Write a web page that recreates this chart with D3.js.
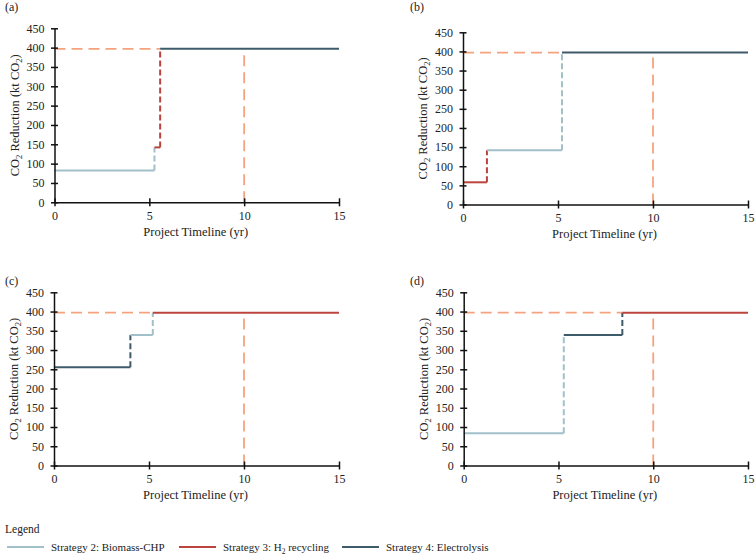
<!DOCTYPE html>
<html>
<head>
<meta charset="utf-8">
<script src="https://cdn.jsdelivr.net/npm/d3@7"></script>
<style>
  html, body { margin: 0; padding: 0; background: #fff; }
  text { font-family: "Liberation Serif", "Times New Roman", serif; fill: #222; }
</style>
</head>
<body>
<svg id="chart" width="756" height="555"></svg>
<script>
// ---------- DATA ----------
const xTicks = [0, 5, 10, 15];
const yTicks = [0, 50, 100, 150, 200, 250, 300, 350, 400, 450];
const panelLabels = ["(a)", "(b)", "(c)", "(d)"];

// step breakpoints (years), step values (kt CO2) and strategy of each step
const breaksA = [0, 5.27, 5.57, 15];
const valuesA = [82, 142, 397];
const strategiesA = [2, 3, 4];

const breaksB = [0, 1.26, 5.21, 15];
const valuesB = [58, 142, 397];
const strategiesB = [3, 2, 4];

const breaksC = [0, 4.02, 5.2, 15];
const valuesC = [255, 339, 397];
const strategiesC = [4, 2, 3];

const breaksD = [0, 5.28, 8.37, 15];
const valuesD = [84, 339, 397];
const strategiesD = [2, 4, 3];

const targetValue = 397;   // target reduction (dashed horizontal)
const targetYear = 10;     // target year (dashed vertical)
const targetVerticalTop = 390;

const legendStrategies = [2, 3, 4];
const legendNames = ["Strategy 2: Biomass-CHP", "Strategy 3: H2 recycling", "Strategy 4: Electrolysis"];

// ---------- STYLE / LAYOUT ----------
const colors = { 2: "#a2c0ca", 3: "#bb453e", 4: "#3e5b69" };
const targetColor = "#f5a37f";

const panels = [
  { label: panelLabels[0], breaks: breaksA, values: valuesA, strategies: strategiesA,
    x0: 54.5, x1: 339, yTop: 28.3, yBot: 202.3, lx: 5, ly: 11 },
  { label: panelLabels[1], breaks: breaksB, values: valuesB, strategies: strategiesB,
    x0: 463, x1: 748, yTop: 32.3, yBot: 204.5, lx: 410, ly: 11 },
  { label: panelLabels[2], breaks: breaksC, values: valuesC, strategies: strategiesC,
    x0: 54, x1: 339, yTop: 292.3, yBot: 465.5, lx: 5, ly: 285 },
  { label: panelLabels[3], breaks: breaksD, values: valuesD, strategies: strategiesD,
    x0: 463.7, x1: 748, yTop: 292.3, yBot: 465.5, lx: 410, ly: 285 }
];

const svg = d3.select("#chart");

function co2Label(sel) {
  sel.append("tspan").text("CO");
  sel.append("tspan").attr("font-size", "8.5px").attr("dy", 3).text("2");
  sel.append("tspan").attr("dy", -3).text(" Reduction (kt CO");
  sel.append("tspan").attr("font-size", "8.5px").attr("dy", 3).text("2");
  sel.append("tspan").attr("dy", -3).text(")");
}

panels.forEach(p => {
  const x = d3.scaleLinear().domain([0, 15]).range([p.x0, p.x1]);
  const y = d3.scaleLinear().domain([0, 450]).range([p.yBot, p.yTop]);
  const g = svg.append("g");

  // panel label
  g.append("text").attr("x", p.lx).attr("y", p.ly).attr("font-size", "12px").text(p.label);

  // target lines (dashed orange)
  const lastStart = p.breaks[p.breaks.length - 2];
  g.append("line")
    .attr("x1", x(0)).attr("x2", x(lastStart))
    .attr("y1", y(targetValue)).attr("y2", y(targetValue))
    .attr("stroke", targetColor).attr("stroke-width", 1.8)
    .attr("stroke-dasharray", "11,6");
  g.append("line")
    .attr("x1", x(targetYear)).attr("x2", x(targetYear))
    .attr("y1", y(0)).attr("y2", y(targetVerticalTop))
    .attr("stroke", targetColor).attr("stroke-width", 1.8)
    .attr("stroke-dasharray", "11,6");

  // step segments
  p.values.forEach((v, i) => {
    g.append("line")
      .attr("x1", x(p.breaks[i])).attr("x2", x(p.breaks[i + 1]))
      .attr("y1", y(v)).attr("y2", y(v))
      .attr("stroke", colors[p.strategies[i]]).attr("stroke-width", 2);
    if (i < p.values.length - 1) {
      g.append("line")
        .attr("x1", x(p.breaks[i + 1])).attr("x2", x(p.breaks[i + 1]))
        .attr("y1", y(v)).attr("y2", y(p.values[i + 1]))
        .attr("stroke", colors[p.strategies[i]]).attr("stroke-width", 2)
        .attr("stroke-dasharray", "6,3");
    }
  });

  // axes
  const xAxis = d3.axisBottom(x).tickValues(xTicks).tickSize(4).tickSizeOuter(0).tickPadding(5);
  const yAxis = d3.axisLeft(y).tickValues(yTicks).tickSize(3.5).tickSizeOuter(0).tickPadding(6.5);

  const gx = g.append("g").attr("transform", `translate(0,${p.yBot})`).call(xAxis);
  const gy = g.append("g").attr("transform", `translate(${p.x0},0)`).call(yAxis);

  [gx, gy].forEach(a => {
    a.select(".domain").attr("stroke", "#111").attr("stroke-width", 1.5);
    a.selectAll(".tick line").attr("stroke", "#111").attr("stroke-width", 1.5);
    a.selectAll(".tick text").attr("font-family", "Liberation Serif, serif")
      .attr("font-size", "12px").attr("fill", "#222");
  });
  // crossing ticks
  gx.selectAll(".tick line").attr("y1", -4).attr("y2", 4);
  gy.selectAll(".tick line").attr("x1", -3.5).attr("x2", 3.5);
  gx.selectAll(".tick text").attr("dy", "0.71em");

  // axis titles
  g.append("text")
    .attr("x", (p.x0 + p.x1) / 2 - 1).attr("y", p.yBot + 33.5)
    .attr("text-anchor", "middle").attr("font-size", "12.5px")
    .text("Project Timeline (yr)");

  g.append("text")
    .attr("transform", `translate(${p.x0 - 36},${(p.yTop + p.yBot) / 2}) rotate(-90)`)
    .attr("text-anchor", "middle").attr("font-size", "12.5px")
    .call(co2Label);
});

// legend
const lg = svg.append("g");
lg.append("text").attr("x", 5).attr("y", 533).attr("font-size", "11.5px").text("Legend");
const legendX = [7, 179, 342];
legendStrategies.forEach((s, i) => {
  lg.append("line")
    .attr("x1", legendX[i]).attr("x2", legendX[i] + 37)
    .attr("y1", 547).attr("y2", 547)
    .attr("stroke", colors[s]).attr("stroke-width", 2);
  const t = lg.append("text").attr("x", legendX[i] + 44).attr("y", 551).attr("font-size", "11px");
  if (legendNames[i].includes("H2")) {
    const parts = legendNames[i].split("H2");
    t.append("tspan").text(parts[0] + "H");
    t.append("tspan").attr("font-size", "7.5px").attr("dy", 2.5).text("2");
    t.append("tspan").attr("dy", -2.5).text(parts[1]);
  } else {
    t.text(legendNames[i]);
  }
});
</script>
</body>
</html>
